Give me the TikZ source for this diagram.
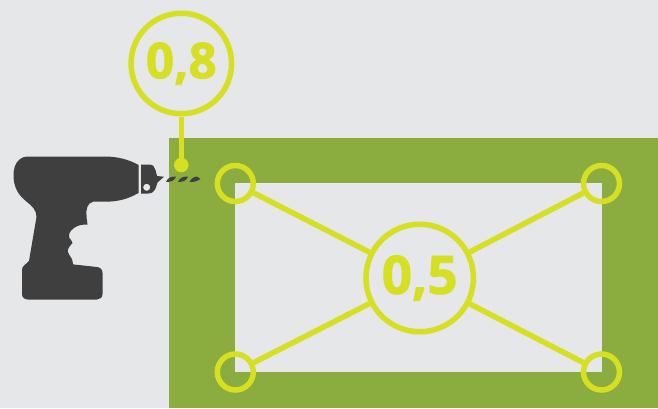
\documentclass[tikz,border=0pt]{standalone}
\usepackage{fontspec}
\setmainfont{Open Sans}
\newfontfamily\heavy[BoldFont={Open Sans Bold},BoldFeatures={FakeBold=1.6}]{Open Sans}
\definecolor{bgc}{HTML}{E6E7E9}
\definecolor{greenc}{HTML}{8BAD3F}
\definecolor{yel}{HTML}{D7DF23}
\definecolor{dark}{HTML}{3F3F3F}
\tikzset{
  ring/.style={circle,draw=yel,line width=5.5pt,inner sep=0pt},
  bigring/.style={ring,minimum size=107.5pt,text=yel,font=\fontsize{53}{53}\heavy\bfseries},
  smallring/.style={ring,minimum size=36pt},
  link/.style={draw=yel,line width=5.5pt},
  bit/.style={fill=dark,draw=none},
}
\begin{document}
\begin{tikzpicture}[x=1pt,y=-1pt]
\useasboundingbox (0,0) rectangle (658,408);
\fill[bgc] (0,0) rectangle (658,408);
\fill[greenc] (169,138) rectangle (658,408);
\fill[bgc] (235,183) rectangle (602,372);
% drill body
\fill[dark] (28,156.5) -- (105,156.5) .. controls (118,156.5) and (130,160) .. (138.5,165)
  -- (138.5,193) .. controls (128,199) and (118,201.7) .. (105,201.7)
  -- (93,201.7) .. controls (87,203) and (86,210) .. (86.5,215)
  .. controls (86,219) and (88,222) .. (87.5,224.5)
  .. controls (82,224.5) and (78,225) .. (74,228)
  .. controls (70,231) and (68,234) .. (69.5,238)
  .. controls (71,240) and (72,241) .. (72.5,243)
  .. controls (70,246) and (67,249) .. (68,252)
  .. controls (69,256) and (73,258) .. (73,264)
  -- (74,264.5) -- (97,267) .. controls (100.5,267.5) and (102.5,269.5) .. (102.5,273)
  -- (102.5,294) .. controls (102.5,297.5) and (100,299.5) .. (97,299.5)
  -- (28,299.5) .. controls (24.5,299.5) and (22,297.5) .. (22,294)
  -- (22,270) .. controls (22,266) and (25,265) .. (29,261)
  -- (36.5,217) .. controls (36.5,210) and (32,206) .. (27,202)
  .. controls (18,195) and (13.5,187) .. (13.5,175)
  .. controls (13.5,163) and (20,156.5) .. (28,156.5) -- cycle;
% chuck
\fill[dark,even odd rule] (141,164.5) -- (149,164.5) .. controls (153,164.5) and (155,167) .. (155.5,170)
  -- (157,176) -- (164,176.7) -- (157.5,182.5)
  .. controls (156,186) and (156,193.5) .. (148,193.5) -- (141,193.5) -- cycle
  (146.7,187.3) circle[radius=3.6pt];
% bit
\fill[bit] (166,182) .. controls (168,177.5) and (171,176.5) .. (176,176.5) .. controls (175,180) and (172,182) .. (166,182) -- cycle;
\fill[bit] (178,182) .. controls (180,177.5) and (183,176.5) .. (188,176.5) .. controls (187,180) and (184,182) .. (178,182) -- cycle;
\fill[bit] (189.5,182) .. controls (191,178) and (195,176.5) .. (197,176.5) -- (200.5,179) .. controls (198,181) and (195,182) .. (189.5,182) -- cycle;
% callout
\node[bigring,minimum size=100.5pt,font=\fontsize{49.5}{49.5}\heavy\bfseries] (top) at (181.3,63.5) {0,8};
\node[circle,fill=yel,minimum size=14.5pt,inner sep=0pt] (dot) at (181.3,165) {};
\draw[link] (top) -- (dot);
% rings
\node[bigring] (mid) at (419.7,278) {0,5};
\node[smallring] (a) at (235.3,183.5) {};
\node[smallring] (b) at (601.5,183.5) {};
\node[smallring] (c) at (235.3,372) {};
\node[smallring] (d) at (601.5,372) {};
\draw[link] (a) -- (mid);
\draw[link] (b) -- (mid);
\draw[link] (c) -- (mid);
\draw[link] (d) -- (mid);
\end{tikzpicture}
\end{document}
